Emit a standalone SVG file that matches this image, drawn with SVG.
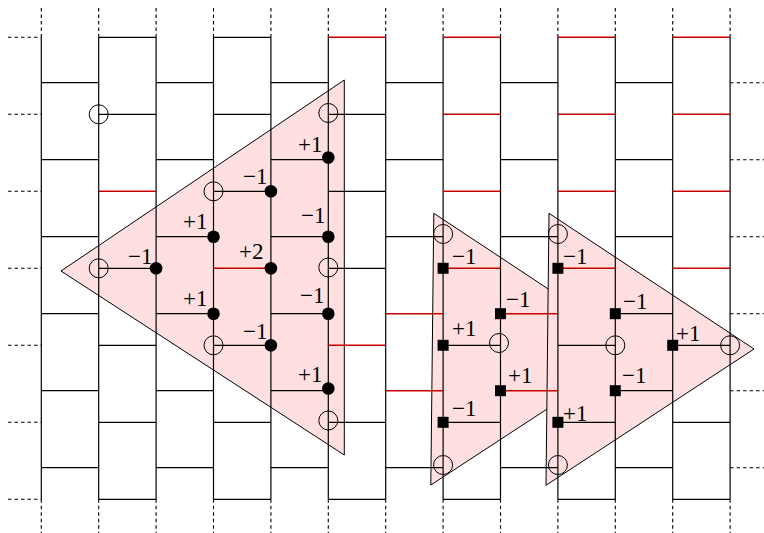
<svg xmlns="http://www.w3.org/2000/svg" width="764" height="533" viewBox="0 0 764 533">
<style>
.tri{fill:#ffdfdf;stroke:#000;stroke-width:1;stroke-linejoin:miter}
.lat{fill:none;stroke:#000;stroke-width:1.2}
.red{fill:none;stroke:#c80000;stroke-width:1.4}
.dash{fill:none;stroke:#000;stroke-width:1.1;stroke-dasharray:3.5 3}
.oc{fill:none;stroke:#000;stroke-width:1}
.fd{fill:#000}
.sq{fill:#000}
.lb{font-family:"Liberation Serif","Times New Roman",serif;font-size:23px;fill:#000}
</style>
<rect width="764" height="533" fill="#fff"/>
<g id="regions">
<polygon id="tri1" class="tri" points="61,271 344.3,80 344.3,455"/>
<polygon id="tri2" class="tri" points="433.8,213.3 430.8,485 639,349"/>
<polygon id="tri3" class="tri" points="549,213.3 546,485.3 754,349"/>
</g>
<g id="connectors">
<path class="dash" d="M41.3 8V37.3M98.7 8V37.3M156.1 8V37.3M213.5 8V37.3M270.9 8V37.3M328.3 8V37.3M385.7 8V37.3M443.1 8V37.3M500.5 8V37.3M557.9 8V37.3M615.3 8V37.3M672.7 8V37.3M730.1 8V37.3
M41.3 499.3V533M98.7 499.3V533M156.1 499.3V533M213.5 499.3V533M270.9 499.3V533M328.3 499.3V533M385.7 499.3V533M443.1 499.3V533M500.5 499.3V533M557.9 499.3V533M615.3 499.3V533M672.7 499.3V533M730.1 499.3V533
M8 37.3H41.3M8 114.3H41.3M8 191.3H41.3M8 268.3H41.3M8 345.3H41.3M8 422.3H41.3M8 499.3H41.3
M730.1 82.7H764M730.1 159.7H764M730.1 236.7H764M730.1 313.7H764M730.1 390.7H764M730.1 467.7H764"/>
<path class="lat" d="M41.3 37.3V499.3M98.7 37.3V499.3M156.1 37.3V499.3M213.5 37.3V499.3M270.9 37.3V499.3M328.3 37.3V499.3M385.7 37.3V499.3M443.1 37.3V499.3M500.5 37.3V499.3M557.9 37.3V499.3M615.3 37.3V499.3M672.7 37.3V499.3M730.1 37.3V499.3
M41.3 82.7H98.7M41.3 159.7H98.7M41.3 236.7H98.7M41.3 313.7H98.7M41.3 390.7H98.7M41.3 467.7H98.7
M98.7 37.3H156.1M98.7 114.3H156.1M98.7 268.3H156.1M98.7 345.3H156.1M98.7 422.3H156.1M98.7 499.3H156.1
M156.1 82.7H213.5M156.1 159.7H213.5M156.1 236.7H213.5M156.1 313.7H213.5M156.1 390.7H213.5M156.1 467.7H213.5
M213.5 37.3H270.9M213.5 114.3H270.9M213.5 191.3H270.9M213.5 345.3H270.9M213.5 422.3H270.9M213.5 499.3H270.9
M270.9 82.7H328.3M270.9 159.7H328.3M270.9 236.7H328.3M270.9 313.7H328.3M270.9 390.7H328.3M270.9 467.7H328.3
M328.3 114.3H385.7M328.3 191.3H385.7M328.3 268.3H385.7M328.3 422.3H385.7M328.3 499.3H385.7
M385.7 82.7H443.1M385.7 159.7H443.1M385.7 236.7H443.1M385.7 467.7H443.1
M443.1 345.3H500.5M443.1 422.3H500.5M443.1 499.3H500.5
M500.5 82.7H557.9M500.5 159.7H557.9M500.5 236.7H557.9M500.5 467.7H557.9
M557.9 345.3H615.3M557.9 422.3H615.3M557.9 499.3H615.3
M615.3 82.7H672.7M615.3 159.7H672.7M615.3 236.7H672.7M615.3 313.7H672.7M615.3 390.7H672.7M615.3 467.7H672.7
M672.7 345.3H730.1M672.7 422.3H730.1M672.7 499.3H730.1"/>
<path class="red" d="M98.7 191.3H156.1M213.5 268.3H270.9M328.3 37.3H385.7M328.3 345.3H385.7M385.7 313.7H443.1M385.7 390.7H443.1
M443.1 37.3H500.5M443.1 114.3H500.5M443.1 191.3H500.5M443.1 268.3H500.5
M500.5 313.7H557.9M500.5 390.7H557.9
M557.9 37.3H615.3M557.9 114.3H615.3M557.9 191.3H615.3M557.9 268.3H615.3
M672.7 37.3H730.1M672.7 114.3H730.1M672.7 191.3H730.1M672.7 268.3H730.1"/>
</g>
<g id="open-sites">
<circle id="o1" class="oc" cx="98.7" cy="114.3" r="9.5"/>
<circle id="o2" class="oc" cx="328.3" cy="113" r="9.5"/>
<circle id="o3" class="oc" cx="213.5" cy="191.3" r="9.5"/>
<circle id="o4" class="oc" cx="98.7" cy="268.3" r="9.5"/>
<circle id="o5" class="oc" cx="328.3" cy="267.5" r="9.5"/>
<circle id="o6" class="oc" cx="213.5" cy="345.3" r="9.5"/>
<circle id="o7" class="oc" cx="328.3" cy="420.5" r="9.5"/>
<circle id="o8" class="oc" cx="443.1" cy="234" r="9.5"/>
<circle id="o9" class="oc" cx="499" cy="343" r="9.5"/>
<circle id="o10" class="oc" cx="443.1" cy="465" r="9.5"/>
<circle id="o11" class="oc" cx="557.9" cy="234" r="9.5"/>
<circle id="o12" class="oc" cx="615.3" cy="345.3" r="9.5"/>
<circle id="o13" class="oc" cx="730.1" cy="345.3" r="9.5"/>
<circle id="o14" class="oc" cx="557.9" cy="465" r="9.5"/>
</g>
<g id="d1"><circle class="fd" cx="328.3" cy="157.5" r="6.3"/><text class="lb" x="298" y="152">+1</text></g>
<g id="d2"><circle class="fd" cx="270.9" cy="191.3" r="6.3"/><text class="lb" x="243" y="184">−1</text></g>
<g id="d3"><circle class="fd" cx="213.5" cy="236.7" r="6.3"/><text class="lb" x="183" y="229">+1</text></g>
<g id="d4"><circle class="fd" cx="328.3" cy="236.7" r="6.3"/><text class="lb" x="301" y="223">−1</text></g>
<g id="d5"><circle class="fd" cx="156.1" cy="268.3" r="6.3"/><text class="lb" x="128" y="264">−1</text></g>
<g id="d6"><circle class="fd" cx="270.9" cy="268.3" r="6.3"/><text class="lb" x="239" y="259">+2</text></g>
<g id="d7"><circle class="fd" cx="213.5" cy="313.7" r="6.3"/><text class="lb" x="183" y="306">+1</text></g>
<g id="d8"><circle class="fd" cx="328.3" cy="313.7" r="6.3"/><text class="lb" x="300" y="303">−1</text></g>
<g id="d9"><circle class="fd" cx="270.9" cy="345.3" r="6.3"/><text class="lb" x="243" y="339">−1</text></g>
<g id="d10"><circle class="fd" cx="328.3" cy="388.5" r="6.3"/><text class="lb" x="298" y="381.5">+1</text></g>
<g id="s1"><rect class="sq" x="437.6" y="262.8" width="11" height="11"/><text class="lb" x="452" y="264">−1</text></g>
<g id="s2"><rect class="sq" x="495" y="308.2" width="11" height="11"/><text class="lb" x="506" y="306.5">−1</text></g>
<g id="s3"><rect class="sq" x="437.6" y="339.8" width="11" height="11"/><text class="lb" x="452" y="336">+1</text></g>
<g id="s4"><rect class="sq" x="495" y="385.2" width="11" height="11"/><text class="lb" x="508" y="383">+1</text></g>
<g id="s5"><rect class="sq" x="437.6" y="416.8" width="11" height="11"/><text class="lb" x="452" y="416">−1</text></g>
<g id="s6"><rect class="sq" x="552.4" y="262.8" width="11" height="11"/><text class="lb" x="563" y="264">−1</text></g>
<g id="s7"><rect class="sq" x="609.8" y="308.2" width="11" height="11"/><text class="lb" x="623" y="309">−1</text></g>
<g id="s8"><rect class="sq" x="667.2" y="339.8" width="11" height="11"/><text class="lb" x="676" y="341">+1</text></g>
<g id="s9"><rect class="sq" x="609.8" y="385.2" width="11" height="11"/><text class="lb" x="622" y="383">−1</text></g>
<g id="s10"><rect class="sq" x="552.4" y="416.8" width="11" height="11"/><text class="lb" x="563" y="421">+1</text></g>
</svg>
